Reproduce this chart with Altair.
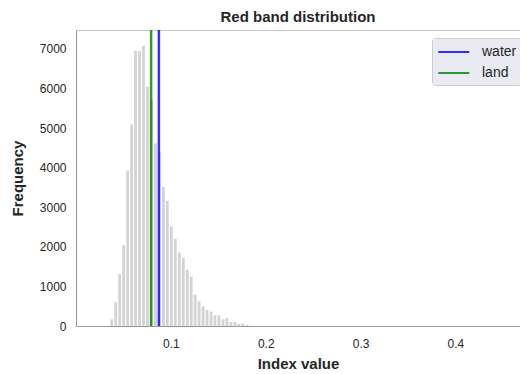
import altair as alt
import pandas as pd

# histogram bin centres (index value) and counts
bin_center = [0.0376, 0.0418, 0.0460, 0.0502, 0.0544, 0.0586, 0.0627, 0.0669,
              0.0711, 0.0753, 0.0795, 0.0837, 0.0879, 0.0921, 0.0962, 0.1004,
              0.1046, 0.1088, 0.1130, 0.1172, 0.1214, 0.1255, 0.1297, 0.1339,
              0.1381, 0.1423, 0.1465, 0.1507, 0.1549, 0.1590, 0.1632, 0.1674,
              0.1716, 0.1758, 0.1800, 0.1842]
counts = [170, 600, 1310, 2040, 3925, 5090, 6945, 6945,
          7080, 6045, 5707, 4613, 4404, 3510, 3160, 2510,
          2200, 1860, 1720, 1420, 1245, 790, 620, 490,
          410, 365, 270, 270, 170, 200, 100, 100,
          60, 60, 20, 10]

line_names = ["water", "land"]
line_values = [0.0873, 0.0791]
line_colors = ["#0000ff", "#008000"]

tick_x = [0.1, 0.2, 0.3, 0.4]
tick_y = [0, 1000, 2000, 3000, 4000, 5000, 6000, 7000]

hist = pd.DataFrame({"value": bin_center, "count": counts})
lines = pd.DataFrame({"name": line_names, "value": line_values})

FONT = "Liberation Sans"
xscale = alt.Scale(domain=[0.00515, 0.4629], nice=False, zero=False)

bars = alt.Chart(hist).mark_bar(size=2.8, color="#d3d3d3").encode(
    x=alt.X("value:Q", scale=xscale,
            axis=alt.Axis(values=tick_x, format=".1f", title="Index value",
                          ticks=False, grid=False, labelPadding=12,
                          titlePadding=7, domainColor="#999999")),
    y=alt.Y("count:Q", scale=alt.Scale(domain=[0, 7475], nice=False),
            axis=alt.Axis(values=tick_y, format="d", title="Frequency",
                          ticks=False, grid=False, labelPadding=10,
                          titlePadding=14, domainColor="#999999")),
)

rules = alt.Chart(lines).mark_rule(strokeWidth=2.5, opacity=0.8).encode(
    x=alt.X("value:Q", scale=xscale,
            axis=alt.Axis(orient="top", labels=False, ticks=False, grid=False,
                          title=None, domainColor="#cccccc")),
    color=alt.Color("name:N",
                    scale=alt.Scale(domain=line_names, range=line_colors),
                    legend=alt.Legend(title=None, orient="none", legendX=356,
                                      legendY=8, symbolType="M-1,0H3",
                                      symbolSize=240, symbolStrokeWidth=2,
                                      symbolFillColor="transparent",
                                      fillColor="#eaeaf2", strokeColor="#cccccc",
                                      padding=5, cornerRadius=3,
                                      labelFontSize=14, labelOffset=27,
                                      rowPadding=5, symbolOpacity=0.8)),
)

chart = alt.layer(bars, rules).resolve_axis(x="independent").properties(
    width=444, height=296,
    title=alt.TitleParams("Red band distribution", fontSize=15, offset=4,
                          anchor="middle", font=FONT, fontWeight="bold",
                          color="#262626"),
    autosize=alt.AutoSizeParams(type="none"),
    padding={"left": 68, "top": 22, "right": 0, "bottom": 46},
).configure_view(strokeWidth=0).configure_axis(
    labelFont=FONT, titleFont=FONT, labelFontSize=12, titleFontSize=15,
    labelColor="#262626", titleColor="#262626", titleFontWeight="bold",
).configure_legend(labelFont=FONT, labelColor="#262626")

chart.save("out.html", embed_options={"renderer": "svg", "actions": False})
